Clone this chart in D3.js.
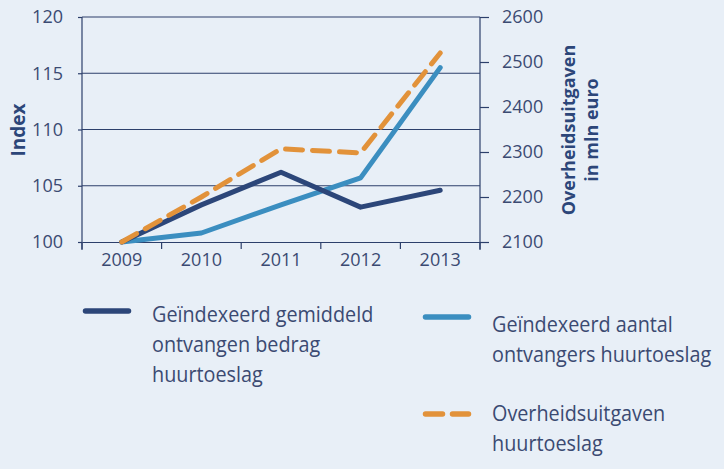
<!DOCTYPE html>
<html>
<head>
<meta charset="utf-8">
<script src="https://cdn.jsdelivr.net/npm/d3@7"></script>
<style>
  html, body { margin: 0; padding: 0; background: #e8eff7; }
  svg { display: block; }
  text { font-family: "Open Sans", "DejaVu Sans", sans-serif; fill: #3b4a72; }
</style>
</head>
<body>
<svg id="chart" width="724" height="469"></svg>
<script>
// ---- data ----
const years = ["2009", "2010", "2011", "2012", "2013"];
const gemiddeldBedrag = [100, 103.3, 106.2, 103.1, 104.6];      // index (left axis)
const aantalOntvangers = [100, 100.8, 103.3, 105.7, 115.5];     // index (left axis)
const overheidsuitgaven = [2100, 2200, 2307, 2298, 2520];       // mln euro (right axis)
const leftTicks = [100, 105, 110, 115, 120];
const rightTicks = [2100, 2200, 2300, 2400, 2500, 2600];
const leftTitle = "Index";
const rightTitle = ["Overheidsuitgaven", "in mln euro"];
const legendItems = [
  { lines: ["Geïndexeerd gemiddeld", "ontvangen bedrag", "huurtoeslag"], key: "bedrag" },
  { lines: ["Geïndexeerd aantal", "ontvangers huurtoeslag"], key: "aantal" },
  { lines: ["Overheidsuitgaven", "huurtoeslag"], key: "uitgaven" }
];

// ---- styles ----
const navy = "#2c4679";
const lightBlue = "#3b8ec0";
const orange = "#e2923a";
const axisCol = "#2c3f6b";

const svg = d3.select("#chart");
const L = 82, R = 480, T = 17, B = 242;

const x = d3.scaleBand().domain(years).range([L, R]).padding(0);
const yL = d3.scaleLinear().domain([100, 120]).range([B, T]);
const yR = d3.scaleLinear().domain([2100, 2600]).range([B, T]);

// gridlines
svg.append("g").selectAll("line")
  .data(leftTicks.slice(1))
  .join("line")
  .attr("x1", L).attr("x2", R)
  .attr("y1", d => yL(d)).attr("y2", d => yL(d))
  .attr("stroke", axisCol).attr("stroke-width", 1.2);

// left axis
const gL = svg.append("g").attr("transform", `translate(${L},0)`)
  .call(d3.axisLeft(yL).tickValues(leftTicks).tickFormat(d3.format("d")).tickSize(4).tickPadding(15).tickSizeOuter(0));
// right axis
const gR = svg.append("g").attr("transform", `translate(${R},0)`)
  .call(d3.axisRight(yR).tickValues(rightTicks).tickFormat(d3.format("d")).tickSize(9).tickPadding(13).tickSizeOuter(0));
// bottom axis (labels)
const gB = svg.append("g").attr("transform", `translate(0,${B})`)
  .call(d3.axisBottom(x).tickSize(0).tickPadding(11).tickSizeOuter(0));

[gL, gR, gB].forEach(g => {
  g.select(".domain").attr("stroke", axisCol).attr("stroke-width", 1.2);
  g.selectAll(".tick line").attr("stroke", axisCol).attr("stroke-width", 1.2);
  g.selectAll(".tick text").attr("fill", "#3b4a72").style("font-size", "18px")
    .style("font-family", '"Open Sans", sans-serif');
});
gR.select(".domain").attr("d", `M0,${T}V${B + 8}`);
gL.select(".domain").attr("d", `M0,${T}V${B + 8}`);

// x-axis boundary ticks
const bounds = years.map(d => x(d)).concat([R]);
svg.append("g").selectAll("line")
  .data(bounds)
  .join("line")
  .attr("x1", d => d).attr("x2", d => d)
  .attr("y1", B).attr("y2", B + 7)
  .attr("stroke", axisCol).attr("stroke-width", 1.2);

// axis titles
svg.append("text")
  .attr("transform", `translate(25,130) rotate(-90)`)
  .attr("text-anchor", "middle")
  .style("font-size", "19px").style("font-weight", "bold")
  .style("fill", navy)
  .text(leftTitle);

svg.append("g").selectAll("text")
  .data(rightTitle)
  .join("text")
  .attr("transform", (d, i) => `translate(${575 + i * 23},130) rotate(-90)`)
  .attr("text-anchor", "middle")
  .style("font-size", "18px").style("font-weight", "bold")
  .style("fill", navy)
  .text(d => d);

// lines
const cx = d => x(d) + x.bandwidth() / 2;
const lineL = d3.line().x((d, i) => cx(years[i])).y(d => yL(d));
const lineR = d3.line().x((d, i) => cx(years[i])).y(d => yR(d));

svg.append("path").datum(aantalOntvangers)
  .attr("d", lineL).attr("fill", "none")
  .attr("stroke", lightBlue).attr("stroke-width", 5)
  .attr("stroke-linecap", "round").attr("stroke-linejoin", "round");

svg.append("path").datum(gemiddeldBedrag)
  .attr("d", lineL).attr("fill", "none")
  .attr("stroke", navy).attr("stroke-width", 5)
  .attr("stroke-linecap", "round").attr("stroke-linejoin", "round");

svg.append("path").datum(overheidsuitgaven)
  .attr("d", lineR).attr("fill", "none")
  .attr("stroke", orange).attr("stroke-width", 5)
  .attr("stroke-dasharray", "17 10")
  .attr("stroke-linecap", "round").attr("stroke-linejoin", "round");

// legend
const legendPos = [
  { sx: 83, sy: 311, tx: 152, ty: 322 },
  { sx: 423, sy: 317, tx: 492, ty: 332 },
  { sx: 423, sy: 414, tx: 492, ty: 421 }
];
const legendStyle = {
  bedrag: { color: navy, dash: null },
  aantal: { color: lightBlue, dash: null },
  uitgaven: { color: orange, dash: "17 10" }
};

legendItems.forEach((item, i) => {
  const p = legendPos[i];
  const st = legendStyle[item.key];
  const g = svg.append("g");
  g.append("line")
    .attr("x1", p.sx + 2.5).attr("x2", p.sx + 45.5)
    .attr("y1", p.sy).attr("y2", p.sy)
    .attr("stroke", st.color).attr("stroke-width", 5.5)
    .attr("stroke-linecap", "round")
    .attr("stroke-dasharray", st.dash);
  const tg = g.append("g").attr("transform", `translate(${p.tx},${p.ty}) scale(0.9,1)`);
  tg.selectAll("text")
    .data(item.lines)
    .join("text")
    .attr("x", 0).attr("y", (d, j) => j * 30)
    .style("font-size", "22px")
    .style("fill", "#3b4a72")
    .text(d => d);
});
</script>
</body>
</html>
